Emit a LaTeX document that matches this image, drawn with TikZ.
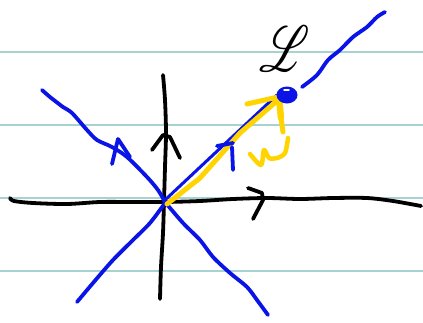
\documentclass[tikz,border=0pt]{standalone}
\usepackage{mathrsfs}
\definecolor{ruleteal}{HTML}{A8D2D2}
\definecolor{penblue}{HTML}{0A14E6}
\definecolor{penyellow}{HTML}{FFD400}
\tikzset{
  ruled/.style={draw=ruleteal, line width=1.3pt},
  inkblack/.style={draw=black, line width=3.8pt, line cap=round, line join=round},
  inkblue/.style={draw=penblue, line width=3.8pt, line cap=round, line join=round},
  inkyellow/.style={draw=penyellow, line width=5pt, line cap=round, line join=round},
}
\begin{document}
\begin{tikzpicture}[x=1pt,y=-1pt]
\useasboundingbox (0,0) rectangle (423,322);
\fill[white] (0,0) rectangle (423,322);
% ruled lines
\foreach \yy in {52,125,198,271} \draw[ruled] (0,\yy) -- (423,\yy);
% black axes
\draw[inkblack] plot[smooth] coordinates {(10,198) (14,201) (33,203) (67,204) (100,202) (133,202) (165,202) (200,201) (233,199) (267,198) (300,199) (333,198) (367,198) (393,201) (421,206)};
\draw[inkblack] plot[smooth] coordinates {(163,75) (165,100) (166,133) (165,167) (164,202) (163,233) (161,267) (160,299)};
\draw[inkblack] (152,150) -- (163,135) -- (170,137) -- (180,158);
\draw[inkblack] (248,188) -- (262,193) -- (263,200) -- (253,219);
% blue lines
\draw[inkblue] plot[smooth] coordinates {(42,90) (50,97) (63,107) (72,113) (87,130) (97,140) (112,147) (127,157) (147,177) (158,190) (165,202)};
\draw[inkblue] plot[smooth] coordinates {(165,202) (183,223) (200,240) (213,257) (230,273) (247,287) (257,300) (268,315)};
\draw[inkblue] plot[smooth] coordinates {(77,302) (93,283) (113,260) (133,240) (150,223) (165,203)};
\draw[inkblue] plot[smooth] coordinates {(302,87) (317,75) (328,60) (340,50) (353,37) (367,27) (377,17) (385,12)};
\draw[inkblue] (112,164) -- (118,139) -- (124,148) -- (130,157);
\draw[inkblue, line width=3pt] (165,200) -- (277,95);
% yellow vector
\draw[inkyellow] (167,204) -- (200,178) -- (240,133) -- (278,100);
\draw[inkyellow] (247,104) -- (278,97);
\draw[penyellow, line cap=round, line width=6.5pt] (279,98) -- (281,118);
\draw[penyellow, line cap=round, line width=5pt] (281,118) -- (283,132);
\draw[inkyellow, line width=4.5pt] plot[smooth] coordinates {(250,154) (261,165) (264,150) (269,158) (277,158) (285,153) (288,138)};
% blue 7 mark
\draw[inkblue] (217,146) -- (233,143);
\draw[inkblue] (232,147) -- (233,170);
% point P
\fill[penblue] (287,95) ellipse [x radius=10.5, y radius=8.5];
\draw[white, line width=1.5pt, line cap=round] (284,90) -- (289,90);
% label
\node[text=black, inner sep=0pt, xscale=1.9, yscale=2.6] (lbl) at (285,49) {\Huge$\mathscr{L}$};
\end{tikzpicture}
\end{document}
